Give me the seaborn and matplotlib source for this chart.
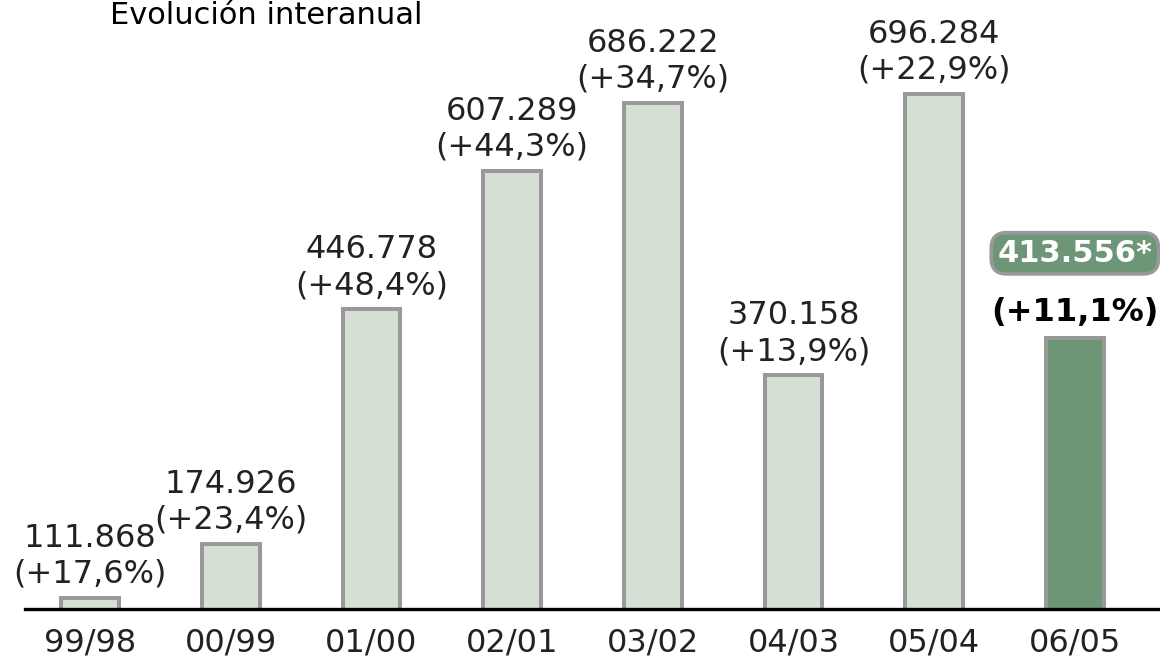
import matplotlib
matplotlib.use("Agg")
import matplotlib.pyplot as plt
import seaborn as sns

# data (thousands)
periods = ["99/98", "00/99", "01/00", "02/01", "03/02", "04/03", "05/04", "06/05"]
values = [111.868, 174.926, 446.778, 607.289, 686.222, 370.158, 696.284, 413.556]
value_labels = ["111.868", "174.926", "446.778", "607.289", "686.222", "370.158", "696.284", "413.556*"]
pct_labels = ["(+17,6%)", "(+23,4%)", "(+48,4%)", "(+44,3%)", "(+34,7%)", "(+13,9%)", "(+22,9%)", "(+11,1%)"]
title = "Evolución interanual"

light = "#d6e0d5"
dark = "#6c9676"
edge = "#999999"
txt = "#222222"

sns.set_theme(style="white")
plt.rcParams["font.family"] = ["DejaVu Sans"]

fig = plt.figure(figsize=(11.6, 6.56), dpi=100)
ax = fig.add_axes([25 / 1160, 47 / 656, 1135 / 1160, 609 / 656])

colors = [light] * (len(periods) - 1) + [dark]
sns.barplot(x=periods, y=values, hue=periods, palette=colors, legend=False, saturation=1,
            width=0.41, edgecolor=edge, linewidth=2.9, ax=ax)

ax.set_xlim(-0.462, 7.605)
ax.set_ylim(99.2, 805.7)

for side in ["top", "left", "right"]:
    ax.spines[side].set_visible(False)
ax.spines["bottom"].set_color("black")
ax.spines["bottom"].set_linewidth(2.4)
ax.set_yticks([])
ax.set_ylabel("")
ax.set_xlabel("")
ax.tick_params(axis="x", length=0, pad=13, labelsize=23, labelcolor=txt)

for i, (v, vl, pl) in enumerate(zip(values, value_labels, pct_labels)):
    if i < len(values) - 1:
        ax.annotate(f"{vl}\n{pl}", xy=(i, v), xytext=(0, 6), textcoords="offset points",
                    ha="center", va="bottom", fontsize=23, color=txt, linespacing=1.2)
    else:
        ax.annotate(pl, xy=(i, v), xytext=(0, 7), textcoords="offset points",
                    ha="center", va="bottom", fontsize=23, fontweight="bold", color="black")
        ax.annotate(vl, xy=(i, v), xytext=(0, 61), textcoords="offset points",
                    ha="center", va="center", fontsize=22, fontweight="bold", color="white",
                    bbox=dict(boxstyle="round,pad=0.2,rounding_size=0.5",
                              facecolor=dark, edgecolor=edge, linewidth=2.6))

fig.text(110 / 1160, 1 - 24 / 656, title, ha="left", va="baseline", fontsize=22, color="black")

fig.savefig("out.png", dpi=100)
